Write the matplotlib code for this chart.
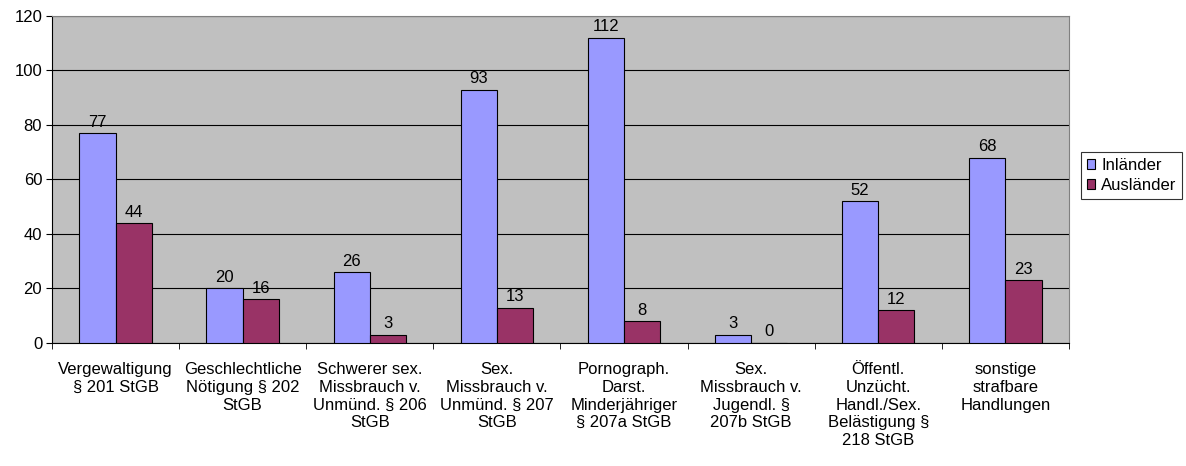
import numpy as np
from matplotlib import pyplot as plt

plt.rcParams['font.family'] = ['Liberation Sans', 'DejaVu Sans']

categories = ['Vergewaltigung\n§ 201 StGB',
              'Geschlechtliche\nNötigung § 202\nStGB',
              'Schwerer sex.\nMissbrauch v.\nUnmünd. § 206\nStGB',
              'Sex.\nMissbrauch v.\nUnmünd. § 207\nStGB',
              'Pornograph.\nDarst.\nMinderjähriger\n§ 207a StGB',
              'Sex.\nMissbrauch v.\nJugendl. §\n207b StGB',
              'Öffentl.\nUnzücht.\nHandl./Sex.\nBelästigung §\n218 StGB',
              'sonstige\nstrafbare\nHandlungen']
inlaender = [77, 20, 26, 93, 112, 3, 52, 68]
auslaender = [44, 16, 3, 13, 8, 0, 12, 23]

fig = plt.figure(figsize=(11.86, 4.66), dpi=100)
ax = fig.add_axes([0.0438, 0.264, 0.8575, 0.7017])
ax.set_facecolor('#C0C0C0')

x = np.arange(len(categories))
w = 0.285
b1 = ax.bar(x - w / 2, inlaender, w, color='#9999FF', edgecolor='black', linewidth=0.8, label='Inländer', zorder=3)
b2 = ax.bar(x + w / 2, auslaender, w, color='#993366', edgecolor='black', linewidth=0.8, label='Ausländer', zorder=3)
for bars, vals in ((b1, inlaender), (b2, auslaender)):
    for r, v in zip(bars, vals):
        ax.text(r.get_x() + r.get_width() / 2, v + 1.3, str(v), ha='center', va='bottom', fontsize=12, zorder=4)

ax.set_xlim(-0.5, len(categories) - 0.5)
ax.set_ylim(0, 120)
ax.set_yticks(range(0, 121, 20))
ax.yaxis.grid(True, color='black', linewidth=0.8, zorder=0)
ax.set_xticks(x)
ax.set_xticklabels(categories, fontsize=12, linespacing=1.22)
ax.tick_params(axis='x', length=0, pad=14)
ax.set_xticks(np.arange(-0.5, len(categories)), minor=True)
ax.tick_params(axis='x', which='minor', length=4, color='black', direction='out')
ax.tick_params(axis='y', length=4, direction='out', labelsize=12, pad=3)
for s in ('top', 'right'):
    ax.spines[s].set_color('#808080')
for s in ('left', 'bottom'):
    ax.spines[s].set_color('black')

leg = fig.legend(loc='upper left', bbox_to_anchor=(0.9115, 0.674), fontsize=12, frameon=True, fancybox=False,
                 edgecolor='black', handlelength=0.5, handleheight=0.5, handletextpad=0.35, borderpad=0.35,
                 labelspacing=0.3, borderaxespad=0)
leg.get_frame().set_linewidth(0.8)

plt.savefig('out.png', dpi=100)
